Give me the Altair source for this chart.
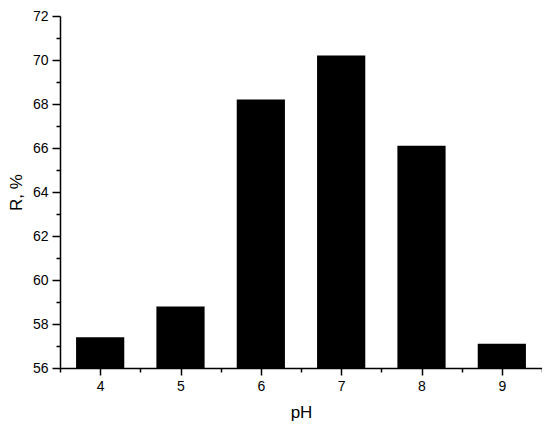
import altair as alt
import pandas as pd

ph = [4, 5, 6, 7, 8, 9]
r_pct = [57.4, 58.8, 68.2, 70.2, 66.1, 57.1]

df = pd.DataFrame({"pH": ph, "R": r_pct})

FONT = "Liberation Sans"

bars = alt.Chart(df).transform_calculate(
    x0="datum.pH - 0.3", x1="datum.pH + 0.3"
).mark_rect(color="black").encode(
    x=alt.X("x0:Q", title="pH",
            scale=alt.Scale(domain=[3.5, 9.5], nice=False, zero=False),
            axis=alt.Axis(values=[3.5, 4, 4.5, 5, 5.5, 6, 6.5, 7, 7.5, 8, 8.5, 9, 9.5],
                          labelExpr="datum.value % 1 === 0 ? format(datum.value, 'd') : ''",
                          labelOverlap=False,
                          tickSize=alt.ExprRef("datum.value % 1 === 0 ? 7 : 4"),
                          grid=False, labelPadding=4, titlePadding=11)),
    x2="x1:Q",
    y=alt.Y("R:Q", title="R, %",
            scale=alt.Scale(domain=[56, 72], nice=False, zero=False),
            axis=alt.Axis(values=list(range(56, 73)),
                          labelExpr="datum.value % 2 === 0 ? format(datum.value, 'd') : ''",
                          labelOverlap=False,
                          tickSize=alt.ExprRef("datum.value % 2 === 0 ? 8 : 4"),
                          grid=False, labelPadding=4, titlePadding=7)),
    y2=alt.datum(56),
)

chart = bars.properties(
    width=482, height=352,
    autosize=alt.AutoSizeParams(type="none"),
    padding={"left": 52, "top": 8, "right": 0, "bottom": 54},
).configure_view(stroke=None).configure_axis(
    domainColor="black", tickColor="black", domainWidth=1.5, tickWidth=1.5,
    labelFont=FONT, titleFont=FONT, labelFontSize=14, titleFontSize=17,
    labelColor="black", titleColor="black", titleFontWeight="normal",
)

chart.save("out.html", embed_options={"renderer": "svg", "actions": False})
